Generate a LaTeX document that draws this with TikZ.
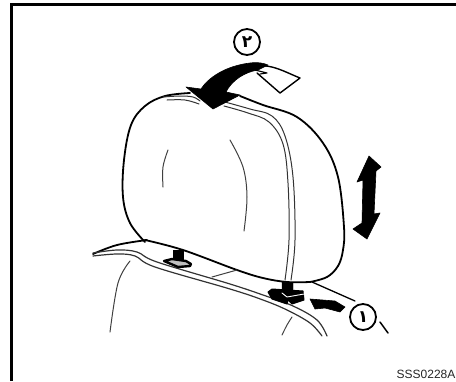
\documentclass[tikz,border=0pt]{standalone}
\usepackage{fontspec}
\setmainfont{Liberation Sans}
\newfontfamily\arabicfont[Script=Arabic]{DejaVu Sans}
\TeXXeTstate=1
\begin{document}
\begin{tikzpicture}[x=1pt,y=-1pt,line join=round,line cap=round,
 frameline/.style={draw=black,line width=3pt,line cap=butt,line join=miter},
 outline/.style={draw=black,line width=1.8pt},
 seam/.style={draw=black!80,line width=1pt},
 crease/.style={draw=black!75,line width=1pt},
 solidarrow/.style={fill=black,draw=black,line width=.6pt},
 callout/.style={circle,draw=black,line width=1.8pt,fill=white,minimum size=26pt,inner sep=0pt,font=\arabicfont\bfseries\fontsize{17}{17}\selectfont},
 partcode/.style={anchor=base west,inner sep=0pt,font=\fontsize{12}{13}\selectfont,text=black!85}]
\useasboundingbox (0,0) rectangle (456,381);
% frame
\draw[frameline] (11.5,381)--(11.5,4.5)--(456,4.5);
% headrest
\draw[outline] plot[smooth,tension=.6] coordinates {(190,93) (165,96) (145,106) (131,125) (124,160) (123,197) (130,223) (145,242)};
\draw[outline] plot[smooth,tension=.6] coordinates {(240,96) (263,105) (297,117) (323,143) (338,177) (344,227) (343,250) (338,266) (327,277) (310,282)};
% headrest seams
\draw[seam] plot[smooth,tension=.6] coordinates {(163,97) (180,96) (193,97) (200,101)};
\draw[seam] plot[smooth,tension=.6] coordinates {(167,100) (185,100) (199,104)};
\draw[seam] plot[smooth,tension=.6] coordinates {(225,102) (250,109) (272,116) (285,136) (293,177) (295,240) (291,280)};
\draw[seam] plot[smooth,tension=.6] coordinates {(224,106) (248,113) (269,122) (283,144) (288,183) (289,240) (285,280)};
\draw[crease] plot[smooth,tension=.6] coordinates {(168,150) (163,167) (163,187)};
\draw[crease] plot[smooth,tension=.6] coordinates {(230,140) (243,167) (247,197) (244,231)};
% seat back
\draw[outline] plot[smooth,tension=.6] coordinates {(93,254) (117,245) (147,240)};
\draw[outline] plot[smooth,tension=.6] coordinates {(145,240) (183,250) (237,270) (263,278) (287,282) (310,282)};
\draw[outline,line width=1.3pt] (312,282)--(355,301);
\draw[seam,line width=1.2pt] plot[smooth,tension=.6] coordinates {(93,253) (117,250) (137,252) (157,262) (230,284) (263,295) (293,306) (317,320) (327,336)};
\draw[seam,line width=1.2pt] plot[smooth,tension=.6] coordinates {(93,256) (117,254) (135,256) (155,267) (230,289) (263,300) (287,310) (310,323) (322,336)};
\draw[crease] (212,277)--(237,270);
\draw[crease] plot[smooth,tension=.6] coordinates {(130,261) (118,283) (110,332)};
\draw[crease] plot[smooth,tension=.6] coordinates {(292,317) (287,325) (282,335)};
% left post
\draw[fill=black] (173,250)--(183,250)--(183,261)--(173,261)--cycle;
\draw[fill=black!25,line width=2.4pt] (164,261)--(172,259)--(186,261)--(191,264)--(190,266)--(178,267)--cycle;
% right post
\draw[fill=black] (282,282)--(293,283)--(293,291)--(282,291)--cycle;
\draw[fill=black,line width=1pt] (268,292)--(272,289)--(303,291)--(304,300)--(292,304)--(288,300)--(287,304)--(272,299)--cycle;
\draw[white,line width=.9pt] (282,293)--(287,297)--(304,294);
% arrow one
\draw[solidarrow] (310,299)--(335,301)--(345,307)--(340,312)--(325,308)--(315,309)--cycle;
% arrow two
\draw[fill=white,line width=1.4pt] (257,66) .. controls (272,64) and (285,72) .. (300,78)--(280,93)--(257,73);
\draw[line width=1.1pt] (255,70)--(267,73)--(260,74);
\draw[solidarrow] (186,87)--(201,89) .. controls (208,78) and (225,66) .. (250,63) .. controls (258,62) and (263,63) .. (268,65)--(258,70) .. controls (245,72) and (232,80) .. (226,92)--(240,95)--(213,109)--cycle;
% arrow up and down
\draw[solidarrow] (369,156)--(381,167)--(376,171)--(374,214)--(380,213)--(367,239)--(353,229)--(362,223)--(363,180)--(357,182)--cycle;
% callouts
\node[callout] (two) at (247,42) {\beginR ٢\endR};
\node[callout] (one) at (363,317) {\beginR ١\endR};
\draw[line width=1.5pt] (380,322)--(388,333);
\node[partcode] (code) at (396.5,378) {SSS0228A};
\end{tikzpicture}
\end{document}
